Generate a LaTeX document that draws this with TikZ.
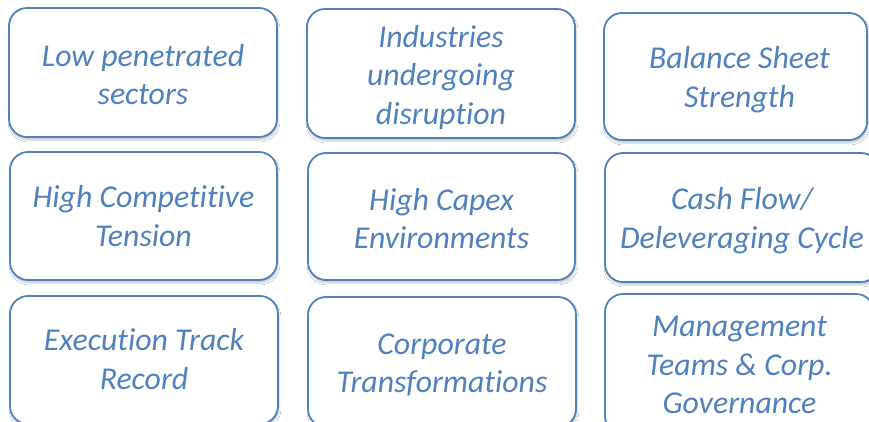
\documentclass[tikz,border=0pt]{standalone}
\usepackage{fontspec}
\setmainfont{Carlito}[Ligatures={NoCommon}]
\usetikzlibrary{shadows.blur}
\definecolor{accent}{RGB}{79,129,189}
\begin{document}
\begin{tikzpicture}[x=1pt,y=-1pt,
  tile/.style={draw=accent, line width=1.8pt, rounded corners=18pt, fill=white,
    inner sep=0pt,
    blur shadow={shadow xshift=1pt, shadow yshift=-3pt, shadow blur steps=6, shadow opacity=22}},
  tiletext/.style={inner sep=0pt, align=center, text=accent,
    font=\itshape\fontsize{31.8}{38.5}\selectfont}]
\useasboundingbox (0,0) rectangle (869,421);
\fill[white] (0,0) rectangle (869,421);
\clip (0,0) rectangle (869,421);
% tiles, first row
\node[tile, minimum width=268pt, minimum height=129pt] (lowpen) at (143,72.5) {};
\node[tile, minimum width=268pt, minimum height=129pt] (disrupt) at (441,73.5) {};
\node[tile, minimum width=263pt, minimum height=127pt] (balance) at (735.5,76.5) {};
% second row
\node[tile, minimum width=267pt, minimum height=128pt] (compet) at (143.5,216) {};
\node[tile, minimum width=267pt, minimum height=127pt] (capex) at (441.5,216.5) {};
\node[tile, minimum width=274pt, minimum height=129pt] (cashflow) at (742,217.5) {};
% third row
\node[tile, minimum width=268pt, minimum height=128pt] (exec) at (144,360) {};
\node[tile, minimum width=268pt, minimum height=130pt] (corptrans) at (442,362) {};
\node[tile, minimum width=269pt, minimum height=140pt] (mgmt) at (739.5,364) {};
% labels
\node[tiletext, yshift=-2pt] (lowpen-t) at (lowpen) {Low penetrated\\sectors};
\node[tiletext, yshift=-4pt] (disrupt-t) at (disrupt) {Industries\\undergoing\\disruption};
\node[tiletext, xshift=4pt, yshift=-3pt] (balance-t) at (balance) {Balance Sheet\\Strength};
\node[tiletext] (compet-t) at (compet) {High Competitive\\Tension};
\node[tiletext, yshift=-2pt] (capex-t) at (capex) {High Capex\\Environments};
\node[tiletext, yshift=-3pt] (cashflow-t) at (cashflow) {Cash Flow/\\Deleveraging Cycle};
\node[tiletext, yshift=1pt] (exec-t) at (exec) {Execution Track\\Record};
\node[tiletext, yshift=-3pt] (corptrans-t) at (corptrans) {Corporate\\Transformations};
\node[tiletext, yshift=-1pt] (mgmt-t) at (mgmt) {Management\\Teams \& Corp.\\Governance};
\end{tikzpicture}
\end{document}
